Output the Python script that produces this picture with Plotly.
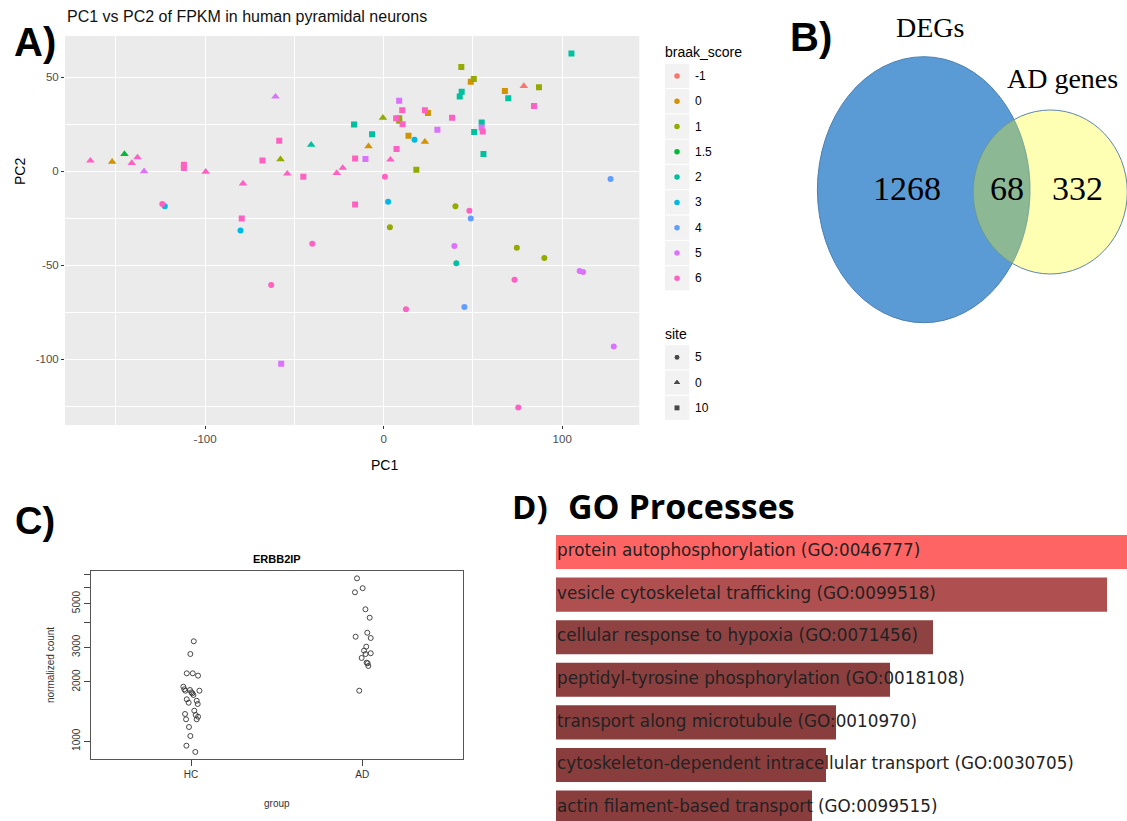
import numpy as np
import plotly.graph_objects as go

W, H = 1127, 821


def X(px):
    return px / W


def Y(py):
    return 1 - py / H


# ---------------- Panel A data (PCA) ----------------
braak_levels = ["-1", "0", "1", "1.5", "2", "3", "4", "5", "6"]
braak_colors = ["#F8766D", "#D39200", "#93AA00", "#00BA38", "#00C19F",
                "#00B9E3", "#619CFF", "#DB72FB", "#FF61C3"]
site_levels = ["5", "0", "10"]
site_symbols = ["circle", "triangle-up", "square"]
site_sizes = [6, 7.5, 6]

pc1 = [
    # site 0 (triangles)
    -164.3, -152.1, -145.2, -137.9, -141.1, -134.2, -99.7, -78.8, -60.6, -57.8,
    -54.0, -40.6, -26.3, -22.9, -8.5, -0.4, 3.8, 23.1, 78.5,
    # site 10 (squares)
    -111.9, -111.9, -67.9, -58.5, -45.0, -16.6, -6.5, -16.0, -10.2, -16.0,
    -79.5, -57.4, 105.2, 43.5, 50.5, 48.8, 67.9, 87.0, 43.7, 42.6,
    69.8, 84.2, 8.7, 10.4, 23.1, 24.8, 38.3, 7.0, 8.7, 8.7,
    10.6, 54.9, 54.9, 55.5, 50.7, 30.1, 13.9, 7.2, 55.9, 18.3,
    # site 5 (circles)
    -124.0, -122.6, -80.2, -40.0, 0.7, 2.5, 3.5, -63.0, 17.3, 127.1,
    40.2, 48.0, 48.8, 39.6, 74.6, 90.0, 40.7, 109.8, 111.7, 73.3,
    12.5, 45.2, 128.9, 75.4,
]
pc2 = [
    5.7, 5.1, 9.2, 7.4, 4.4, 0.0, -0.2, -6.5, 39.7, 6.4,
    -1.2, 14.1, -0.9, 1.8, 13.3, 28.5, 6.2, 15.7, 45.4,
    3.5, 1.8, 5.8, 16.3, -2.8, 24.9, 19.8, 6.9, 6.6, -17.6,
    -25.1, -102.3, 62.7, 55.5, 49.1, 47.7, 42.8, 44.7, 42.4, 39.8,
    38.9, 34.8, 37.5, 32.5, 32.5, 31.1, 28.5, 28.3, 28.3, 26.9,
    25.1, 26.0, 23.3, 21.2, 21.0, 22.1, 18.9, 11.9, 9.2, 0.9,
    -17.3, -18.5, -31.4, -38.5, -2.8, -16.2, -29.7, -60.4, 16.8, -4.0,
    -18.5, -21.0, -25.1, -39.7, -40.6, -46.1, -48.9, -53.0, -53.5, -57.6,
    -73.3, -72.1, -93.1, -125.6,
]
braak = [
    "6", "0", "1.5", "6", "6", "5", "6", "6", "5", "1",
    "6", "2", "6", "6", "0", "1", "6", "0", "-1",
    "6", "6", "6", "6", "6", "2", "2", "6", "5", "6",
    "6", "5", "2", "1", "1", "0", "0", "1", "2", "2",
    "2", "6", "5", "6", "6", "0", "6", "6", "1", "1",
    "6", "2", "5", "6", "2", "5", "0", "6", "2", "1",
    "6", "3", "3", "6", "6", "3", "1", "6", "3", "4",
    "1", "6", "4", "5", "1", "1", "2", "5", "5", "6",
    "6", "4", "5", "6",
]
site = ["0"] * 19 + ["10"] * 40 + ["5"] * 24

# ---------------- Panel B data (Venn) ----------------
venn_sets = ["DEGs", "AD genes"]
venn_counts = ["1268", "68", "332"]

# ---------------- Panel C data (ERBB2IP) ----------------
c_groups = ["HC", "AD"]
hc_x = [1.016, 0.996, 0.975, 1.010, 1.041, 0.955, 0.961, 0.994, 1.008, 1.049,
        1.014, 0.975, 0.986, 1.033, 1.039, 1.019, 0.965, 1.027, 1.041, 0.971,
        1.033, 0.988, 0.996, 0.973, 1.025, 0.967, 1.002]
hc_count = [3218, 2773, 2213, 2213, 2153, 1892, 1836, 1821, 1752, 1806,
            1718, 1634, 1570, 1606, 1546, 1430, 1376, 1360, 1333, 1293,
            1293, 1182, 1064, 950, 883, 1806, 1770]
ad_x = [1.969, 2.002, 1.957, 2.018, 2.043, 2.029, 1.961, 2.049, 2.023, 2.010,
        2.049, 2.019, 1.996, 2.031, 2.035, 2.025, 1.982]
ad_count = [6714, 5985, 5705, 4677, 4238, 3556, 3394, 3344, 3022, 2884,
            2798, 2773, 2648, 2488, 2411, 2506, 1806]
c_tickvals = [1000, 2000, 3000, 4000, 5000, 6000, 7000]
c_ticktext = ["1000", "2000", "3000", "", "5000", "", ""]

# ---------------- Panel D data (GO processes) ----------------
go_terms = [
    "protein autophosphorylation (GO:0046777)",
    "vesicle cytoskeletal trafficking (GO:0099518)",
    "cellular response to hypoxia (GO:0071456)",
    "peptidyl-tyrosine phosphorylation (GO:0018108)",
    "transport along microtubule (GO:0010970)",
    "cytoskeleton-dependent intracellular transport (GO:0030705)",
    "actin filament-based transport (GO:0099515)",
]
go_scores = [600, 551, 377, 334, 280, 270, 256]
go_colors = ["#FF6464", "#B04F4F", "#8E4242", "#8B3F3F", "#8A3D3D", "#8A3D3D", "#8A3D3D"]

fig = go.Figure()
shapes = []
ann = []

# ================= Panel A =================
shapes.append(dict(type="rect", xref="paper", yref="paper", x0=X(65), x1=X(639.3),
                   y0=Y(425), y1=Y(36), fillcolor="#EBEBEB", line=dict(width=0),
                   layer="below"))
pc1_a = np.array(pc1)
pc2_a = np.array(pc2)
braak_a = np.array(braak)
site_a = np.array(site)
for s, sym, sz in zip(site_levels, site_symbols, site_sizes):
    for b, col in zip(braak_levels, braak_colors):
        m = (site_a == s) & (braak_a == b)
        if m.sum() == 0:
            continue
        fig.add_trace(go.Scatter(x=pc1_a[m], y=pc2_a[m], mode="markers",
                                 marker=dict(symbol=sym, size=sz, color=col,
                                             line=dict(width=0)),
                                 showlegend=False, xaxis="x", yaxis="y"))

ann.append(dict(text="PC1 vs PC2 of FPKM in human pyramidal neurons", x=X(65), y=Y(17),
                xanchor="left", yanchor="middle",
                font=dict(family="Liberation Sans", size=16, color="#111111")))
ann.append(dict(text="<b>A)</b>", x=X(35), y=Y(42), xanchor="center", yanchor="middle",
                font=dict(family="Liberation Sans", size=40, color="black")))
ann.append(dict(text="PC2", x=X(20), y=Y(172), textangle=-90, xanchor="center",
                yanchor="middle", font=dict(family="Liberation Sans", size=14, color="black")))
ann.append(dict(text="PC1", x=X(384), y=Y(465), xanchor="center", yanchor="middle",
                font=dict(family="Liberation Sans", size=14, color="black")))

# legend (manual, ggplot style)
ann.append(dict(text="braak_score", x=X(663), y=Y(52), xanchor="left", yanchor="middle",
                font=dict(family="Liberation Sans", size=14, color="black")))
ann.append(dict(text="site", x=X(663), y=Y(334), xanchor="left", yanchor="middle",
                font=dict(family="Liberation Sans", size=14, color="black")))
row_h = 25.3
braak_rows = [75.9 + row_h * i for i in range(len(braak_levels))]
site_rows = [357.3 + row_h * j for j in range(len(site_levels))]
for ry, lab in zip(braak_rows + site_rows, braak_levels + site_levels):
    shapes.append(dict(type="rect", xref="paper", yref="paper", x0=X(665), x1=X(689.3),
                       y0=Y(ry + 12.1), y1=Y(ry - 12.1), fillcolor="#F2F2F2",
                       line=dict(width=0), layer="below"))
    ann.append(dict(text=lab, x=X(693), y=Y(ry), xanchor="left", yanchor="middle",
                    font=dict(family="Liberation Sans", size=12, color="black")))
fig.add_trace(go.Scatter(x=[677] * len(braak_levels), y=braak_rows, mode="markers",
                         marker=dict(symbol="circle", size=5.5, color=braak_colors),
                         showlegend=False, xaxis="x4", yaxis="y4"))
fig.add_trace(go.Scatter(x=[677] * len(site_levels), y=site_rows, mode="markers",
                         marker=dict(symbol=site_symbols, size=[6, 7.5, 6], color="black"),
                         showlegend=False, xaxis="x4", yaxis="y4"))

# ================= Panel B (Venn) =================
e_cx, e_cy, e_a, e_b = 923.7, 189.7, 106.3, 133.0
c_cx, c_cy, c_rx, c_ry = 1050.3, 192.0, 77.0, 82.0
shapes.append(dict(type="circle", xref="paper", yref="paper",
                   x0=X(e_cx - e_a), x1=X(e_cx + e_a), y0=Y(e_cy + e_b), y1=Y(e_cy - e_b),
                   fillcolor="#5B9BD5", line=dict(color="#4A7FB0", width=1)))
shapes.append(dict(type="circle", xref="paper", yref="paper",
                   x0=X(c_cx - c_rx), x1=X(c_cx + c_rx), y0=Y(c_cy + c_ry), y1=Y(c_cy - c_ry),
                   fillcolor="#FFFFB4", line=dict(color="#5F84AC", width=1)))
# lens (intersection) outline
t = np.linspace(-np.pi, np.pi, 1441)
ex = e_cx + e_a * np.cos(t)
ey = e_cy - e_b * np.sin(t)
in_c = ((ex - c_cx) / c_rx) ** 2 + ((ey - c_cy) / c_ry) ** 2 <= 1
s = np.linspace(0, 2 * np.pi, 1441)
cx_ = c_cx + c_rx * np.cos(s)
cy_ = c_cy - c_ry * np.sin(s)
in_e = ((cx_ - e_cx) / e_a) ** 2 + ((cy_ - e_cy) / e_b) ** 2 <= 1
lx = np.concatenate([ex[in_c], cx_[in_e]])
ly = np.concatenate([ey[in_c], cy_[in_e]])
path = "M " + " L ".join(f"{X(a):.5f},{Y(b):.5f}" for a, b in zip(lx, ly)) + " Z"
shapes.append(dict(type="path", xref="paper", yref="paper", path=path,
                   fillcolor="#8CB894", line=dict(color="#6F9E93", width=1)))

ann.append(dict(text="<b>B)</b>", x=X(811), y=Y(37), xanchor="center", yanchor="middle",
                font=dict(family="Liberation Sans", size=40, color="black")))
ann.append(dict(text=venn_sets[0], x=X(930), y=Y(28), xanchor="center", yanchor="middle",
                font=dict(family="Liberation Serif", size=28, color="black")))
ann.append(dict(text=venn_sets[1], x=X(1062), y=Y(79), xanchor="center", yanchor="middle",
                font=dict(family="Liberation Serif", size=28, color="black")))
for txt, px in zip(venn_counts, [907, 1007, 1077]):
    ann.append(dict(text=txt, x=X(px), y=Y(189), xanchor="center", yanchor="middle",
                    font=dict(family="Liberation Serif", size=34, color="black")))

# ================= Panel C =================
fig.add_trace(go.Scatter(x=hc_x + ad_x, y=hc_count + ad_count, mode="markers",
                         marker=dict(symbol="circle-open", size=5,
                                     color="#333333", line=dict(width=0.9)),
                         showlegend=False, xaxis="x2", yaxis="y2"))
ann.append(dict(text="<b>C)</b>", x=X(35), y=Y(521), xanchor="center", yanchor="middle",
                font=dict(family="Liberation Sans", size=38, color="black")))
ann.append(dict(text="<b>ERBB2IP</b>", x=X(277), y=Y(559), xanchor="center", yanchor="middle",
                font=dict(family="Liberation Sans", size=11, color="black")))
ann.append(dict(text="normalized count", x=X(50), y=Y(665), textangle=-90,
                xanchor="center", yanchor="middle",
                font=dict(family="Liberation Sans", size=10, color="#333333")))
ann.append(dict(text="group", x=X(277), y=Y(803), xanchor="center", yanchor="middle",
                font=dict(family="Liberation Sans", size=10, color="#333333")))

# ================= Panel D =================
fig.add_trace(go.Bar(x=go_scores, y=go_terms, orientation="h",
                     marker=dict(color=go_colors, line=dict(width=0)),
                     showlegend=False, xaxis="x3", yaxis="y3"))
fig.add_trace(go.Scatter(x=[1] * len(go_terms), y=go_terms, mode="text", text=go_terms,
                         textposition="middle right",
                         textfont=dict(family="DejaVu Sans", size=16.8, color="#222222"),
                         cliponaxis=False, showlegend=False, xaxis="x3", yaxis="y3"))
ann.append(dict(text="<b>D)</b>", x=X(530), y=Y(506), xanchor="center", yanchor="middle",
                font=dict(family="Open Sans", size=33, color="black")))
ann.append(dict(text="<b>GO Processes</b>", x=X(566), y=Y(506), xanchor="left",
                yanchor="middle", font=dict(family="Open Sans", size=34, color="black")))

for a in ann:
    a.setdefault("xref", "paper")
    a.setdefault("yref", "paper")
    a.setdefault("showarrow", False)

tickfontA = dict(family="Liberation Sans", size=11.5, color="#4D4D4D")
tickfontC = dict(family="Liberation Sans", size=10, color="#333333")

fig.update_layout(
    width=W, height=H, autosize=False,
    margin=dict(l=0, r=0, t=0, b=0, pad=0),
    paper_bgcolor="white", plot_bgcolor="rgba(0,0,0,0)",
    bargap=0.2,
    shapes=shapes, annotations=ann,
    xaxis=dict(domain=[X(65), X(639.3)], range=[-178.5, 143.2], anchor="y",
               tickvals=[-100, 0, 100], ticktext=["-100", "0", "100"],
               showgrid=True, gridcolor="white", gridwidth=1.1,
               minor=dict(tickvals=[-150, -50, 50], showgrid=True, gridcolor="white",
                          gridwidth=0.5, ticks=""),
               ticks="outside", ticklen=3, tickwidth=1, tickcolor="#333333",
               tickfont=tickfontA, zeroline=False, showline=False),
    yaxis=dict(domain=[Y(425), Y(36)], range=[-134.9, 72.0], anchor="x",
               tickvals=[-100, -50, 0, 50], ticktext=["-100", "-50", "0", "50"],
               showgrid=True, gridcolor="white", gridwidth=1.1,
               minor=dict(tickvals=[-125, -75, -25, 25], showgrid=True, gridcolor="white",
                          gridwidth=0.5, ticks=""),
               ticks="outside", ticklen=3, tickwidth=1, tickcolor="#333333",
               tickfont=tickfontA, zeroline=False, showline=False),
    xaxis2=dict(domain=[X(91), X(462.7)], range=[0.416, 2.586], anchor="y2",
                tickvals=[1, 2], ticktext=c_groups, ticks="outside", ticklen=6,
                tickcolor="#444444", showline=True, mirror=True, linecolor="#555555",
                linewidth=1, showgrid=False, zeroline=False, tickfont=tickfontC),
    yaxis2=dict(domain=[Y(758.7), Y(571)], type="log",
                range=[np.log10(816), np.log10(7315)], anchor="x2",
                tickvals=c_tickvals, ticktext=c_ticktext, tickangle=-90,
                ticks="outside", ticklen=6, tickcolor="#444444", showline=True,
                mirror=True, linecolor="#555555", linewidth=1, showgrid=False,
                zeroline=False, tickfont=tickfontC),
    xaxis3=dict(domain=[X(556), 1.0], range=[0, 571], anchor="y3", visible=False),
    yaxis3=dict(domain=[0.0, Y(530.7)], range=[6.314, -0.5], anchor="x3", visible=False,
                categoryorder="array", categoryarray=go_terms),
    xaxis4=dict(domain=[0, 1], range=[0, W], anchor="y4", visible=False),
    yaxis4=dict(domain=[0, 1], range=[H, 0], anchor="x4", visible=False),
)

fig.write_html("out.html")
